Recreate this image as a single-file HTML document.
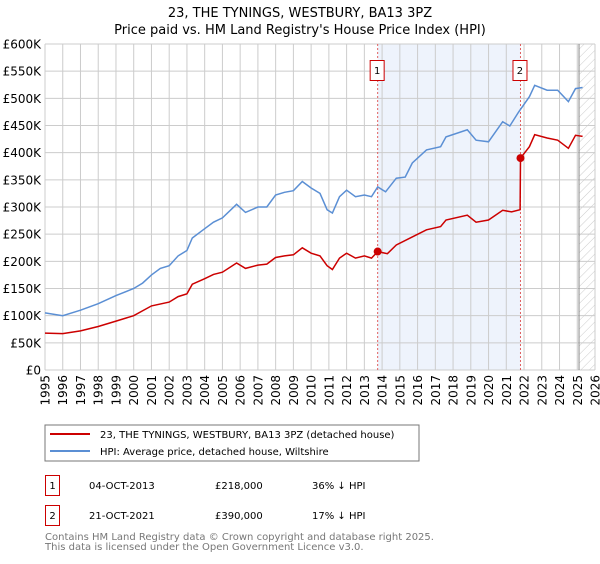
<!DOCTYPE html>
<html><head><meta charset="utf-8"><style>
body{margin:0;background:#fff;width:600px;height:560px;overflow:hidden;font-family:"DejaVu Sans","Liberation Sans",sans-serif}
</style></head><body>
<svg width="600" height="560" xmlns="http://www.w3.org/2000/svg" font-family="DejaVu Sans, Liberation Sans, sans-serif">
<defs><pattern id="hatch" width="6" height="6" patternUnits="userSpaceOnUse" patternTransform="rotate(45)"><line x1="0" y1="0" x2="0" y2="6" stroke="#ccc" stroke-width="1"/></pattern></defs>
<text x="300" y="17" text-anchor="middle" font-size="13" fill="#000">23, THE TYNINGS, WESTBURY, BA13 3PZ</text>
<text x="300" y="34" text-anchor="middle" font-size="13" fill="#000">Price paid vs. HM Land Registry's House Price Index (HPI)</text>
<g id="plot"></g>
<rect x="45" y="425" width="374" height="36" fill="#fff" stroke="#777"/>
<line x1="50" y1="434" x2="90" y2="434" stroke="#cc0000" stroke-width="2"/>
<text x="100" y="438" font-size="10">23, THE TYNINGS, WESTBURY, BA13 3PZ (detached house)</text>
<line x1="50" y1="451" x2="90" y2="451" stroke="#5b8fd4" stroke-width="2"/>
<text x="100" y="455" font-size="10">HPI: Average price, detached house, Wiltshire</text>
<g font-size="10">
<rect x="45.5" y="475.5" width="14" height="20" fill="#fff" stroke="#cc0000"/>
<text x="52.5" y="489" text-anchor="middle">1</text>
<text x="89" y="489">04-OCT-2013</text><text x="215" y="489">£218,000</text><text x="312" y="489">36% ↓ HPI</text>
<rect x="45.5" y="505.5" width="14" height="20" fill="#fff" stroke="#cc0000"/>
<text x="52.5" y="519" text-anchor="middle">2</text>
<text x="89" y="519">21-OCT-2021</text><text x="215" y="519">£390,000</text><text x="312" y="519">17% ↓ HPI</text>
</g>
<text x="45" y="540" font-size="10" fill="#777">Contains HM Land Registry data © Crown copyright and database right 2025.</text>
<text x="45" y="550" font-size="10" fill="#777">This data is licensed under the Open Government Licence v3.0.</text>
</svg>
<script>
const hpiYears=[1995,1996,1997,1998,1999,2000,2000.5,2001,2001.5,2002,2002.5,2003,2003.3,2004,2004.5,2005,2005.8,2006.3,2007,2007.5,2008,2008.5,2009,2009.5,2010,2010.5,2010.9,2011.2,2011.6,2012,2012.5,2013,2013.4,2013.75,2014.2,2014.8,2015.3,2015.7,2016.5,2017.3,2017.6,2018.8,2019.3,2020,2020.8,2021.2,2021.7,2022.3,2022.6,2023.3,2023.9,2024.5,2024.9,2025.3];
const hpiValues=[105,100,110,122,137,150,160,175,187,192,210,220,243,260,272,280,305,290,300,300,322,327,330,347,335,325,295,289,319,331,319,322,319,337,328,353,355,381,405,411,429,442,423,420,457,449,475,503,524,515,515,494,518,520];
const priceYears=[1995,1996,1997,1998,1999,2000,2001,2002,2002.5,2003,2003.3,2004,2004.5,2005,2005.8,2006.3,2007,2007.5,2008,2008.5,2009,2009.5,2010,2010.5,2010.9,2011.2,2011.6,2012,2012.5,2013,2013.4,2013.75,2014.3,2014.8,2015.7,2016.5,2017.3,2017.6,2018.8,2019.3,2020,2020.8,2021.3,2021.78,2021.8,2022.3,2022.6,2023.3,2023.9,2024.5,2024.9,2025.3];
const priceValues=[68,67,72,80,90,100,118,125,135,140,158,168,176,180,197,187,193,195,207,210,212,225,215,210,192,185,206,215,206,210,206,218,214,230,245,258,264,276,285,272,276,294,291,295,390,411,433,427,423,408,432,430];
const saleYears=[2013.75,2021.8];
const saleValues=[218,390];
const yTicks=[0,50,100,150,200,250,300,350,400,450,500,550,600];
const yTickLabels=["£0","£50K","£100K","£150K","£200K","£250K","£300K","£350K","£400K","£450K","£500K","£550K","£600K"];
const xTicks=[1995,1996,1997,1998,1999,2000,2001,2002,2003,2004,2005,2006,2007,2008,2009,2010,2011,2012,2013,2014,2015,2016,2017,2018,2019,2020,2021,2022,2023,2024,2025,2026];
const X0=45,X1=595,Y0=370,Y1=44;
const xs=y=>X0+(y-1995)/(2026-1995)*(X1-X0);
const ys=v=>Y0-v/600*(Y0-Y1);
const NS="http://www.w3.org/2000/svg";
const g=document.getElementById('plot');
function mk(t,a){const e=document.createElementNS(NS,t);for(const k in a)e.setAttribute(k,a[k]);g.appendChild(e);return e;}
let e;
e=mk('rect',{x:xs(2013.75),y:Y1,width:xs(2021.8)-xs(2013.75),height:Y0-Y1,fill:'#eef3fc'});


e=mk('rect',{x:xs(2025.1),y:Y1,width:X1-xs(2025.1),height:Y0-Y1,fill:'url(#hatch)'});


yTicks.forEach((v,i)=>{
 e=mk('line',{x1:X0,x2:X1,y1:ys(v),y2:ys(v),stroke:'#ccc'});
 
 
 e=mk('text',{x:41,y:ys(v)+4.5,'text-anchor':'end','font-size':12,fill:'#000'});
 e.textContent=yTickLabels[i];
 
 
});
xTicks.forEach(t=>{
 e=mk('line',{x1:xs(t),x2:xs(t),y1:Y1,y2:Y0,stroke:'#ccc'});
 
 
 e=mk('text',{x:0,y:0,'text-anchor':'end','font-size':12,fill:'#000',transform:`translate(${xs(t)+4.5},375) rotate(-90)`});
 e.textContent=t;
 
 
});
e=mk('line',{x1:xs(2025.1),x2:xs(2025.1),y1:Y1,y2:Y0,stroke:'#888','stroke-width':1});


saleYears.forEach((s,i)=>{
 e=mk('line',{x1:xs(s),x2:xs(s),y1:Y1,y2:Y0,stroke:'#e06060','stroke-dasharray':'2,2'});
 
 
});
const pts=(xa,va)=>xa.map((x,i)=>xs(x).toFixed(1)+','+ys(va[i]).toFixed(1)).join(' ');
e=mk('polyline',{points:pts(hpiYears,hpiValues),fill:'none',stroke:'#5b8fd4','stroke-width':1.5});


e=mk('polyline',{points:pts(priceYears,priceValues),fill:'none',stroke:'#cc0000','stroke-width':1.5});


saleYears.forEach((s,i)=>{
 e=mk('circle',{cx:xs(s),cy:ys(saleValues[i]),r:4,fill:'#cc0000'});
 
 
 const bx=xs(s)-7;
 e=mk('rect',{x:bx-0.5,y:60.5,width:14,height:20,fill:'#fff',stroke:'#cc0000'});
 
 
 e=mk('text',{x:bx+6.5,y:74,'text-anchor':'middle','font-size':10,fill:'#000'});
 e.textContent=String(i+1);
 
 
});
</script>
</body></html>
